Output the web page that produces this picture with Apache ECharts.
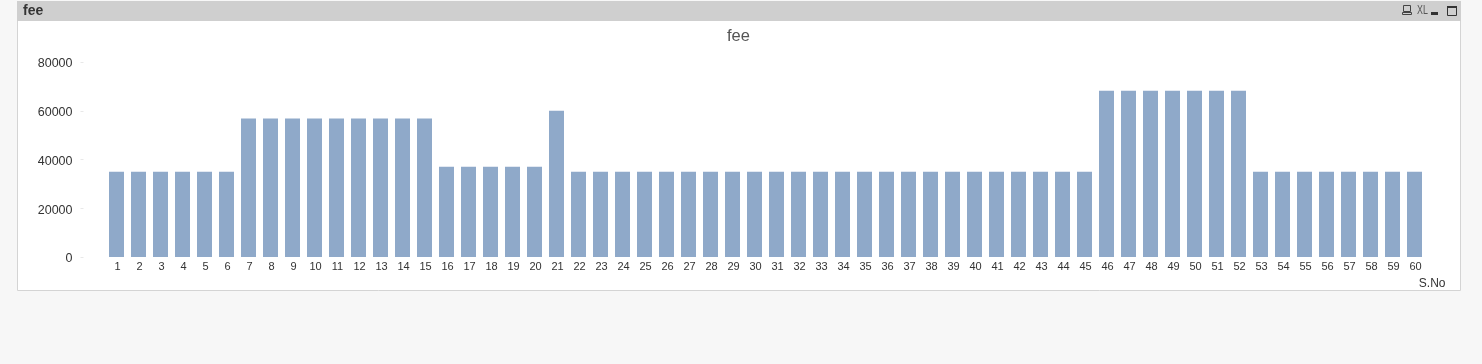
<!DOCTYPE html>
<html>
<head>
<meta charset="utf-8">
<style>html,body{margin:0;padding:0;background:#f7f7f7}#c{width:1482px;height:364px}</style>
<script src="https://cdn.jsdelivr.net/npm/echarts@6/dist/echarts.min.js"></script>
</head>
<body>
<div id="c"></div>
<script>
const categories = ["1","2","3","4","5","6","7","8","9","10","11","12","13","14","15","16","17","18","19","20","21","22","23","24","25","26","27","28","29","30","31","32","33","34","35","36","37","38","39","40","41","42","43","44","45","46","47","48","49","50","51","52","53","54","55","56","57","58","59","60"];
const feeValues = [35000,35000,35000,35000,35000,35000,56800,56800,56800,56800,56800,56800,56800,56800,56800,37000,37000,37000,37000,37000,60000,35000,35000,35000,35000,35000,35000,35000,35000,35000,35000,35000,35000,35000,35000,35000,35000,35000,35000,35000,35000,35000,35000,35000,35000,68200,68200,68200,68200,68200,68200,68200,35000,35000,35000,35000,35000,35000,35000,35000];
const yTicks = {min:0,max:80000,interval:20000};
const chart = echarts.init(document.getElementById('c'), null, {renderer:'canvas'});
const font = '"Liberation Sans", Arial, sans-serif';
chart.setOption({
  animation:false,
  backgroundColor:'#f7f7f7',
  title:{text:'fee',left:722,top:23,textStyle:{fontFamily:font,fontSize:16.5,fontWeight:'normal',color:'#555'}},
  grid:{left:105.5,right:56.5,top:62,bottom:107,containLabel:false},
  xAxis:{type:'category',data:categories,name:'S.No',nameLocation:'end',nameGap:20,
    nameTextStyle:{fontFamily:font,fontSize:12,color:'#333',align:'right',verticalAlign:'top',padding:[21,0,0,0]},
    axisLine:{show:false},axisTick:{show:false},
    axisLabel:{interval:0,margin:4,fontFamily:font,fontSize:11,color:'#333',padding:[0,0,0,2]}},
  yAxis:{type:'value',min:yTicks.min,max:yTicks.max,interval:yTicks.interval,offset:22,
    splitLine:{show:false},axisLine:{show:false},
    axisTick:{show:true,length:3,lineStyle:{color:'#e8e8e8'}},
    axisLabel:{margin:11,fontFamily:font,fontSize:12.5,color:'#333',verticalAlign:'top',lineHeight:4,
      formatter:function(v){return String(v);}}},
  series:[{type:'bar',data:feeValues,barWidth:15,itemStyle:{color:'#8fa9c9'},z:2}],
  graphic:{elements:[
    {type:'rect',z:-10,silent:true,shape:{x:17.5,y:1.5,width:1443,height:289},style:{fill:'#fff',stroke:'#d4d4d4',lineWidth:1}},
    {type:'rect',z:-9,silent:true,shape:{x:17,y:1,width:1444,height:20},style:{fill:'#cfcfcf'}},
    {type:'text',z:5,silent:true,x:23,y:4,style:{text:'fee',fontFamily:font,fontSize:14,fontWeight:'bold',fill:'#333'}},
    {type:'rect',z:5,silent:true,shape:{x:1403.5,y:5.5,width:7,height:6},style:{fill:'none',stroke:'#444',lineWidth:1}},
    {type:'rect',z:5,silent:true,shape:{x:1402.5,y:12.5,width:9,height:2},style:{fill:'none',stroke:'#444',lineWidth:1}},
    {type:'text',z:5,silent:true,x:1417,y:4,scaleX:0.68,style:{text:'XL',fontFamily:font,fontSize:13,fill:'#555'}},
    {type:'rect',z:5,silent:true,shape:{x:1431,y:12,width:7,height:3},style:{fill:'#333'}},
    {type:'rect',z:5,silent:true,shape:{x:1447.5,y:6.5,width:9,height:9},style:{fill:'none',stroke:'#333',lineWidth:1}},
    {type:'rect',z:5,silent:true,shape:{x:1447,y:6,width:10,height:2},style:{fill:'#333'}}
  ]}
});
</script>
</body>
</html>
